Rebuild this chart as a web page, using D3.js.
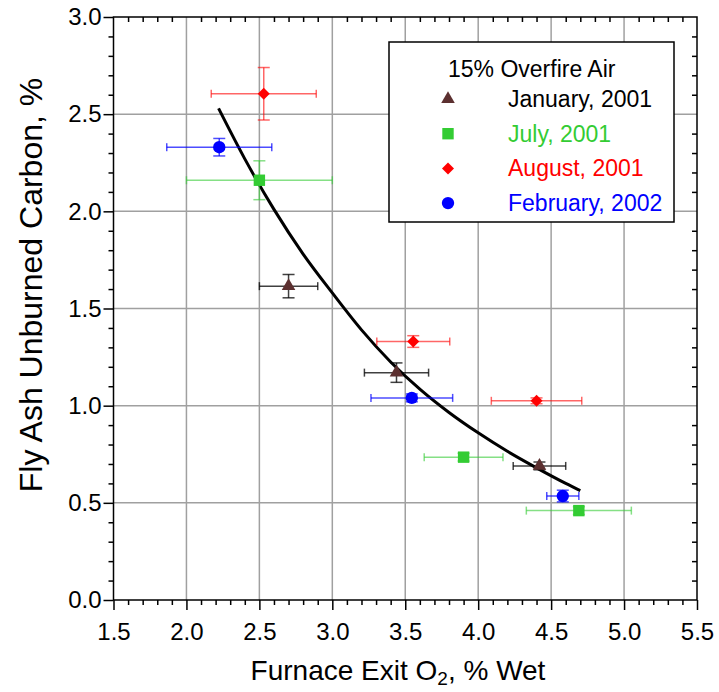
<!DOCTYPE html>
<html>
<head>
<meta charset="utf-8">
<script src="https://cdn.jsdelivr.net/npm/d3@7"></script>
<style>
  body { margin: 0; background: #fff; }
  text { font-family: "Liberation Sans", Arial, sans-serif; }
</style>
</head>
<body>
<svg id="chart" width="719" height="692"></svg>
<script>
// data
const seriesNames = ["January, 2001", "July, 2001", "August, 2001", "February, 2002"];
const janX = [2.70, 3.44, 4.42], janY = [1.615, 1.17, 0.69];
const janXErr = [0.20, 0.22, 0.18], janYErr = [0.06, 0.05, 0.02];
const julX = [2.50, 3.90, 4.69], julY = [2.16, 0.735, 0.46];
const julXErr = [0.50, 0.27, 0.36], julYErr = [0.10, 0.02, 0.02];
const augX = [2.53, 3.555, 4.40], augY = [2.605, 1.33, 1.025];
const augXErr = [0.36, 0.25, 0.31], augYErr = [0.135, 0.03, 0.015];
const febX = [2.225, 3.545, 4.58], febY = [2.33, 1.04, 0.535];
const febXErr = [0.36, 0.28, 0.11], febYErr = [0.045, 0.02, 0.03];
// fitted curve, points
const fitX = [2.22, 2.4, 2.6, 2.8, 3.0, 3.2, 3.4, 3.6, 3.8, 4.0, 4.2, 4.4, 4.6, 4.7];
const fitY = [2.53, 2.27, 2.01, 1.78, 1.58, 1.39, 1.225, 1.085, 0.965, 0.86, 0.765, 0.68, 0.60, 0.563];
const xTicks = [1.5, 2.0, 2.5, 3.0, 3.5, 4.0, 4.5, 5.0, 5.5];
const yTicks = [0.0, 0.5, 1.0, 1.5, 2.0, 2.5, 3.0];

const svg = d3.select("svg#chart");
const plotL = 113.5, plotR = 697, plotT = 17, plotB = 600;

const x = d3.scaleLinear().domain([1.5, 5.5]).range([plotL, plotR]);
const y = d3.scaleLinear().domain([0, 3]).range([plotB, plotT]);

const minorX = d3.range(15, 56).map(d => d / 10).filter(d => !xTicks.some(t => Math.abs(t - d) < 1e-6));
const minorY = d3.range(0, 31).map(d => d / 10).filter(d => !yTicks.some(t => Math.abs(t - d) < 1e-6));

// grid
const grid = svg.append("g").attr("stroke", "#a0a0a0").attr("stroke-width", 1.5);
grid.selectAll("line.gx").data(xTicks.slice(1, -1)).enter().append("line")
  .attr("x1", d => x(d)).attr("x2", d => x(d)).attr("y1", plotT).attr("y2", plotB);
grid.selectAll("line.gy").data(yTicks.slice(1, -1)).enter().append("line")
  .attr("x1", plotL).attr("x2", plotR).attr("y1", d => y(d)).attr("y2", d => y(d));

// axes
function styleAxis(g) {
  g.select(".domain").remove();
  g.selectAll("line").attr("stroke", "#000").attr("stroke-width", 1.5);
  g.selectAll("text").attr("font-size", 24).attr("fill", "#000")
    .attr("font-family", "'Liberation Sans', Arial, sans-serif");
}
const fmt = d3.format(".1f");
svg.append("g").attr("transform", `translate(0,${plotB})`)
  .call(d3.axisBottom(x).tickValues(xTicks).tickFormat(fmt).tickSize(10).tickPadding(13)).call(styleAxis);
svg.append("g").attr("transform", `translate(0,${plotB})`)
  .call(d3.axisBottom(x).tickValues(minorX).tickFormat("").tickSize(5)).call(styleAxis);
svg.append("g").attr("transform", `translate(${plotL},0)`)
  .call(d3.axisLeft(y).tickValues(yTicks).tickFormat(fmt).tickSize(10).tickPadding(2)).call(styleAxis);
svg.append("g").attr("transform", `translate(${plotL},0)`)
  .call(d3.axisLeft(y).tickValues(minorY).tickFormat("").tickSize(5)).call(styleAxis);
svg.append("g").attr("transform", `translate(0,${plotT})`)
  .call(d3.axisTop(x).tickValues(minorX).tickFormat("").tickSize(-5)).call(styleAxis);
svg.append("g").attr("transform", `translate(${plotR},0)`)
  .call(d3.axisRight(y).tickValues(minorY).tickFormat("").tickSize(-5)).call(styleAxis);

svg.append("rect").attr("x", plotL).attr("y", plotT)
  .attr("width", plotR - plotL).attr("height", plotB - plotT)
  .attr("fill", "none").attr("stroke", "#000").attr("stroke-width", 1.5);

// axis titles
const xt = svg.append("text").attr("x", 398).attr("y", 680)
  .attr("text-anchor", "middle").attr("font-size", 28);
xt.append("tspan").text("Furnace Exit O");
xt.append("tspan").text("2").attr("font-size", 19).attr("dy", 5);
xt.append("tspan").text(", % Wet").attr("dy", -5);

svg.append("text").attr("transform", "translate(42,285) rotate(-90)")
  .attr("text-anchor", "middle").attr("font-size", 32)
  .text("Fly Ash Unburned Carbon, %");

// curve
const fit = fitX.map((d, i) => [d, fitY[i]]);
svg.append("path").datum(fit)
  .attr("d", d3.line().x(d => x(d[0])).y(d => y(d[1])).curve(d3.curveMonotoneX))
  .attr("fill", "none").attr("stroke", "#000").attr("stroke-width", 3);

// symbols; diamond is a square turned 45 degrees
const diamond = {
  draw(ctx, size) {
    const r = Math.sqrt(size / 2);
    ctx.moveTo(0, -r); ctx.lineTo(r, 0); ctx.lineTo(0, r); ctx.lineTo(-r, 0); ctx.closePath();
  }
};

// series
const series = [
  { name: seriesNames[0], xs: janX, ys: janY, xe: janXErr, ye: janYErr, color: "#5c3030", text: "#000", bar: "#000", barOp: 0.75, sym: d3.symbolTriangle, size: 80 },
  { name: seriesNames[1], xs: julX, ys: julY, xe: julXErr, ye: julYErr, color: "#33cc33", text: "#33cc33", bar: "#33cc33", barOp: 0.6, sym: d3.symbolSquare, size: 130 },
  { name: seriesNames[2], xs: augX, ys: augY, xe: augXErr, ye: augYErr, color: "#ff0000", text: "#ff0000", bar: "#ff0000", barOp: 0.6, sym: diamond, size: 72 },
  { name: seriesNames[3], xs: febX, ys: febY, xe: febXErr, ye: febYErr, color: "#0000ff", text: "#0000ff", bar: "#0000ff", barOp: 0.7, sym: d3.symbolCircle, size: 120 }
];

series.forEach(s => {
  const pts = s.xs.map((d, i) => ({ x: d, y: s.ys[i], xe: s.xe[i], ye: s.ye[i] }));
  const g = svg.append("g");
  const eb = g.append("g").attr("stroke", s.bar).attr("stroke-opacity", s.barOp).attr("stroke-width", 1.5);
  pts.forEach(p => {
    eb.append("line").attr("x1", x(p.x - p.xe)).attr("x2", x(p.x + p.xe)).attr("y1", y(p.y)).attr("y2", y(p.y));
    [p.x - p.xe, p.x + p.xe].forEach(v => {
      eb.append("line").attr("x1", x(v)).attr("x2", x(v)).attr("y1", y(p.y) - 4).attr("y2", y(p.y) + 4);
    });
    eb.append("line").attr("x1", x(p.x)).attr("x2", x(p.x)).attr("y1", y(p.y - p.ye)).attr("y2", y(p.y + p.ye));
    [p.y - p.ye, p.y + p.ye].forEach(v => {
      eb.append("line").attr("x1", x(p.x) - 6).attr("x2", x(p.x) + 6).attr("y1", y(v)).attr("y2", y(v));
    });
  });
  g.selectAll("path.pt").data(pts).enter().append("path")
    .attr("transform", d => `translate(${x(d.x)},${y(d.y)})`)
    .attr("d", d3.symbol().type(s.sym).size(s.size))
    .attr("fill", s.color);
});

// legend
const lg = svg.append("g");
lg.append("rect").attr("x", 389).attr("y", 42).attr("width", 285).attr("height", 180)
  .attr("fill", "#fff").attr("stroke", "#000").attr("stroke-width", 1.5);
lg.append("text").attr("x", 448).attr("y", 77).attr("font-size", 23).text("15% Overfire Air");
series.forEach((s, i) => {
  const cy = 99 + i * 34.7;
  lg.append("path").attr("transform", `translate(448,${cy})`)
    .attr("d", d3.symbol().type(s.sym).size(s.size)).attr("fill", s.color);
  lg.append("text").attr("x", 508).attr("y", cy + 8).attr("font-size", 23)
    .attr("fill", s.text).text(s.name);
});
</script>
</body>
</html>
